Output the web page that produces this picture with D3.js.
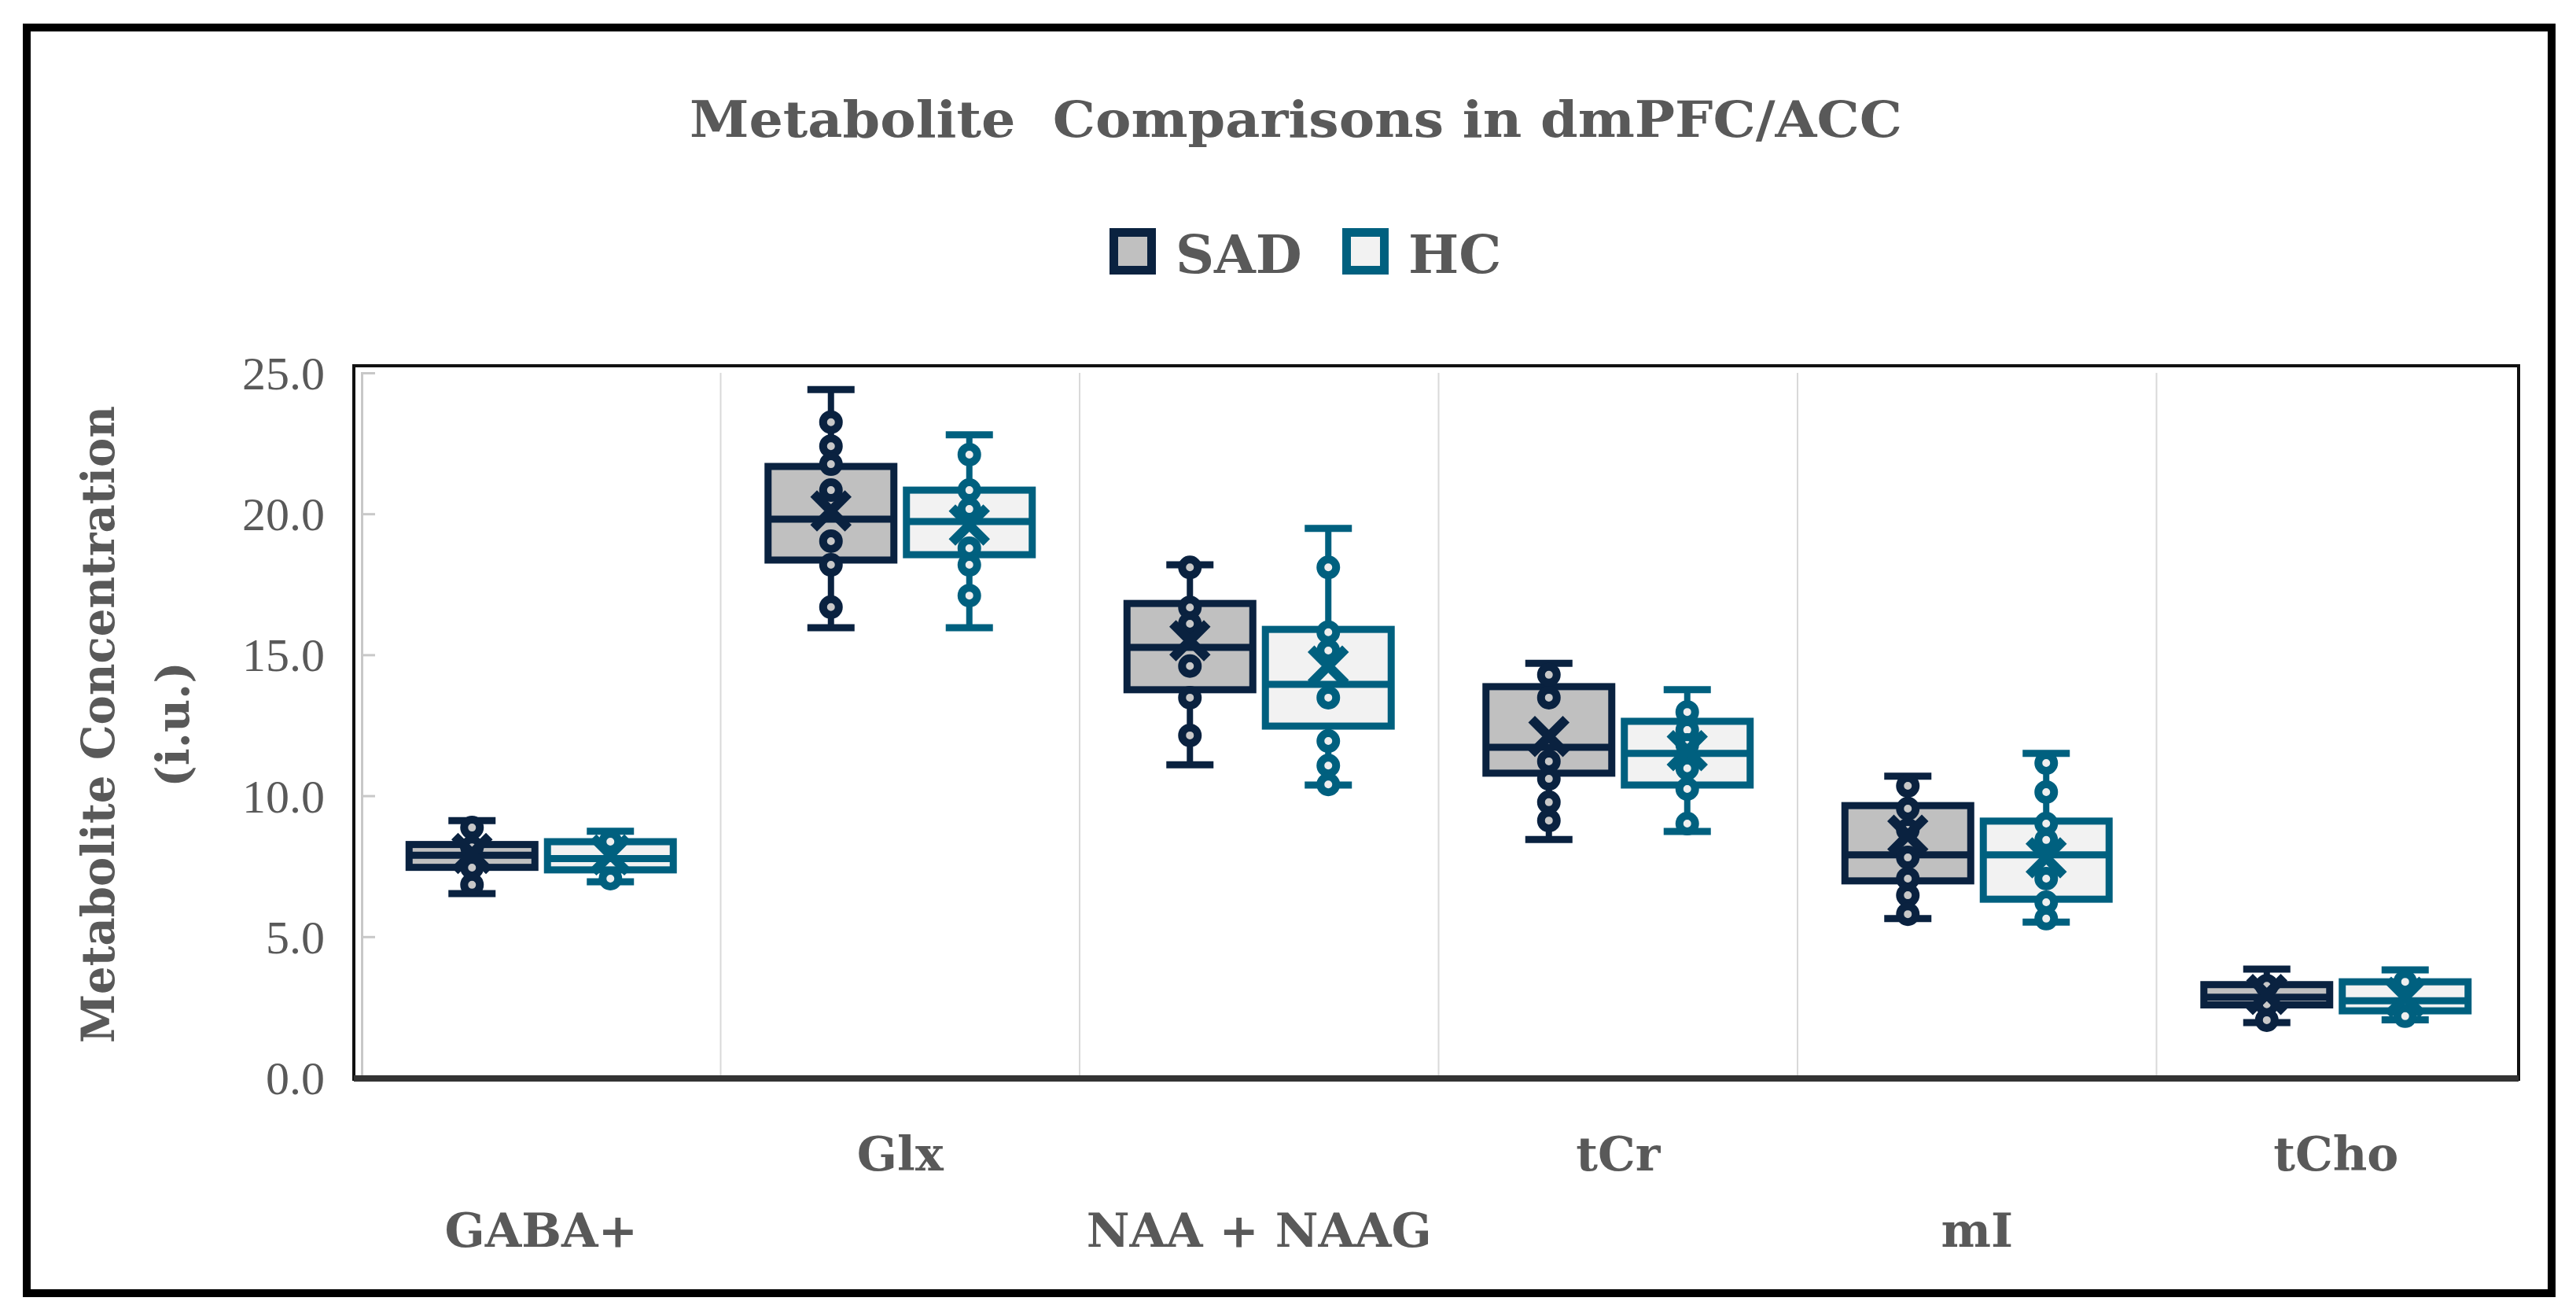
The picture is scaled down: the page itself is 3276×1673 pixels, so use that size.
<!DOCTYPE html>
<html><head><meta charset="utf-8">
<script src="https://cdn.jsdelivr.net/npm/d3@7"></script>
<style>html,body{margin:0;padding:0;background:#fff;} svg{display:block;}</style>
</head><body>
<svg id="chart" width="3276" height="1673"></svg>
<script>
const categories = ["GABA+", "Glx", "NAA + NAAG", "tCr", "mI", "tCho"];
const seriesNames = ["SAD", "HC"];
const yTicks = [0, 5, 10, 15, 20, 25];

// SAD box statistics
const sadMin    = [6.53, 15.96, 11.10, 8.45, 5.64, 1.95];
const sadQ1     = [7.46, 18.36, 13.76, 10.80, 6.98, 2.58];
const sadMedian = [7.89, 19.81, 15.26, 11.72, 7.90, 2.85];
const sadQ3     = [8.27, 21.68, 16.82, 13.87, 9.65, 3.30];
const sadMax    = [9.12, 24.41, 18.19, 14.70, 10.69, 3.85];
const sadMean   = [7.95, 20.10, 15.50, 12.10, 8.60, 2.95];
// HC box statistics
const hcMin    = [6.95, 15.96, 10.38, 8.73, 5.52, 2.05];
const hcQ1     = [7.37, 18.55, 12.47, 10.38, 6.33, 2.37];
const hcMedian = [7.77, 19.73, 13.95, 11.50, 7.90, 2.73];
const hcQ3     = [8.37, 20.84, 15.90, 12.64, 9.10, 3.40];
const hcMax    = [8.74, 22.80, 19.48, 13.76, 11.50, 3.82];
const hcMean   = [7.90, 19.60, 14.60, 11.60, 7.80, 2.85];
// visible inner points
const sadPoints = [
  [8.87, 8.17, 7.45, 6.84],
  [23.25, 22.40, 21.76, 20.84, 19.03, 18.19, 16.69],
  [18.10, 16.68, 16.10, 14.60, 13.48, 12.14],
  [14.29, 13.48, 11.22, 10.60, 9.77, 9.12],
  [10.35, 9.54, 8.79, 7.81, 7.06, 6.47, 5.80],
  [3.26, 2.60, 2.04]
];
const hcPoints = [
  [8.37, 7.06],
  [22.10, 20.84, 20.17, 18.78, 18.19, 17.10],
  [18.10, 15.80, 15.15, 13.48, 11.94, 11.07, 10.40],
  [12.97, 12.33, 11.80, 10.97, 10.24, 9.01],
  [11.16, 10.13, 9.01, 8.43, 7.06, 6.22, 5.64],
  [3.40, 2.18]
];

const seriesStats = {
  SAD: {min: sadMin, q1: sadQ1, med: sadMedian, q3: sadQ3, max: sadMax, mean: sadMean, pts: sadPoints,
        stroke: "#0a2240", fill: "#c0c0c0", hole: "#c8c8c8"},
  HC:  {min: hcMin, q1: hcQ1, med: hcMedian, q3: hcQ3, max: hcMax, mean: hcMean, pts: hcPoints,
        stroke: "#00607f", fill: "#f2f2f2", hole: "#eeeeee"}
};

const textColor = "#595959";
const boldFont = "'Palatino Linotype','Book Antiqua',Palatino,'DejaVu Serif',serif";
const tickFont = "'Palatino Linotype','Book Antiqua',Palatino,'Liberation Serif',serif";

const svg = d3.select("#chart");
svg.append("rect").attr("width", 3276).attr("height", 1673).attr("fill", "#fff");

// outer border
svg.append("rect").attr("x", 34).attr("y", 35).attr("width", 3211).attr("height", 1609)
  .attr("fill", "none").attr("stroke", "#000").attr("stroke-width", 10);

const x = d3.scaleBand().domain(categories).range([460, 3199]).padding(0);
const xs = d3.scalePoint().domain(seriesNames).range([0, x.bandwidth()]).padding(0.797);
const y = d3.scaleLinear().domain([0, 25]).range([1370, 474]);

// title
svg.append("text").attr("x", 1648).attr("y", 174).attr("text-anchor", "middle")
  .attr("font-family", boldFont).attr("font-weight", "bold").attr("font-size", 64)
  .attr("fill", textColor).attr("textLength", 1542).attr("lengthAdjust", "spacingAndGlyphs")
  .style("white-space", "pre")
  .text("Metabolite  Comparisons in dmPFC/ACC");

// legend
const legendPos = {SAD: {box: 1416.5, text: 1495}, HC: {box: 1712.5, text: 1791}};
seriesNames.forEach(s => {
  const st = seriesStats[s];
  svg.append("rect").attr("x", legendPos[s].box).attr("y", 295.5).attr("width", 48).attr("height", 48)
    .attr("fill", st.fill).attr("stroke", st.stroke).attr("stroke-width", 11);
  svg.append("text").attr("x", legendPos[s].text).attr("y", 347)
    .attr("font-family", boldFont).attr("font-weight", "bold").attr("font-size", 68)
    .attr("fill", textColor).text(s);
});

// vertical gridlines at category boundaries
svg.append("g").selectAll("line").data(categories.slice(1)).join("line")
  .attr("x1", d => x(d)).attr("x2", d => x(d))
  .attr("y1", y(25)).attr("y2", y(0))
  .attr("stroke", "#d9d9d9").attr("stroke-width", 2);

// inner y axis line and ticks
const yInner = svg.append("g").attr("transform", "translate(460,0)")
  .call(d3.axisRight(y).tickValues(yTicks).tickSize(17).tickFormat(""));
yInner.select(".domain").attr("stroke", "#c8c8c8").attr("stroke-width", 3);
yInner.selectAll(".tick line").attr("stroke", "#c8c8c8").attr("stroke-width", 3);

// y tick labels
const yLab = svg.append("g").attr("transform", "translate(413,0)")
  .call(d3.axisLeft(y).tickValues(yTicks).tickSize(0).tickPadding(0).tickFormat(d3.format(".1f")));
yLab.select(".domain").remove();
yLab.selectAll("text").attr("font-family", tickFont).attr("font-size", 60)
  .attr("fill", textColor).attr("dy", "0.34em");

// plot frame
svg.append("rect").attr("x", 450).attr("y", 465).attr("width", 2753).attr("height", 907)
  .attr("fill", "none").attr("stroke", "#111").attr("stroke-width", 4);
svg.append("line").attr("x1", 450).attr("x2", 3203).attr("y1", y(0) + 1).attr("y2", y(0) + 1)
  .attr("stroke", "#333").attr("stroke-width", 8);

// y axis title
const yTitle = svg.append("g").attr("font-family", boldFont).attr("font-weight", "bold")
  .attr("fill", textColor).attr("font-size", 58).attr("text-anchor", "middle");
yTitle.append("text").attr("transform", "translate(125,921) rotate(-90)").attr("dy", "0.35em")
  .attr("textLength", 810).attr("lengthAdjust", "spacingAndGlyphs").text("Metabolite Concentration");
yTitle.append("text").attr("transform", "translate(220,921) rotate(-90)").attr("dy", "0.35em")
  .text("(i.u.)");

// category labels (staggered)
svg.append("g").selectAll("text").data(categories).join("text")
  .attr("x", d => x(d) + x.bandwidth() / 2)
  .attr("y", (d, i) => i % 2 === 0 ? 1585 : 1488)
  .attr("text-anchor", "middle")
  .attr("font-family", boldFont).attr("font-weight", "bold").attr("font-size", 60)
  .attr("fill", textColor).text(d => d);

// boxes
const boxW = 160, capW = 60, sw = 9;
seriesNames.forEach(s => {
  const st = seriesStats[s];
  const g = svg.append("g");
  const data = categories.map((c, i) => ({
    c, cx: x(c) + xs(s), min: st.min[i], q1: st.q1[i], med: st.med[i], q3: st.q3[i],
    max: st.max[i], mean: st.mean[i], pts: st.pts[i]
  }));
  // whiskers
  g.selectAll(".wl").data(data).join("line").attr("class", "wl")
    .attr("x1", d => d.cx).attr("x2", d => d.cx)
    .attr("y1", d => y(d.max)).attr("y2", d => y(d.min))
    .attr("stroke", st.stroke).attr("stroke-width", 8);
  g.selectAll(".capt").data(data).join("line").attr("class", "capt")
    .attr("x1", d => d.cx - capW / 2).attr("x2", d => d.cx + capW / 2)
    .attr("y1", d => y(d.max)).attr("y2", d => y(d.max))
    .attr("stroke", st.stroke).attr("stroke-width", 9);
  g.selectAll(".capb").data(data).join("line").attr("class", "capb")
    .attr("x1", d => d.cx - capW / 2).attr("x2", d => d.cx + capW / 2)
    .attr("y1", d => y(d.min)).attr("y2", d => y(d.min))
    .attr("stroke", st.stroke).attr("stroke-width", 9);
  // box
  g.selectAll(".box").data(data).join("rect").attr("class", "box")
    .attr("x", d => d.cx - boxW / 2).attr("width", boxW)
    .attr("y", d => y(d.q3)).attr("height", d => y(d.q1) - y(d.q3))
    .attr("fill", st.fill).attr("stroke", st.stroke).attr("stroke-width", sw);
  g.selectAll(".med").data(data).join("line").attr("class", "med")
    .attr("x1", d => d.cx - boxW / 2).attr("x2", d => d.cx + boxW / 2)
    .attr("y1", d => y(d.med)).attr("y2", d => y(d.med))
    .attr("stroke", st.stroke).attr("stroke-width", sw);
  // points
  const pts = data.flatMap(d => d.pts.map(v => ({cx: d.cx, v})));
  g.selectAll(".pt").data(pts).join("circle").attr("class", "pt")
    .attr("cx", d => d.cx).attr("cy", d => y(d.v)).attr("r", 10)
    .attr("fill", st.hole).attr("stroke", st.stroke).attr("stroke-width", 10);
  // mean X marker
  const h = 22;
  g.selectAll(".mean").data(data).join("path").attr("class", "mean")
    .attr("d", d => {
      const cx = d.cx, cy = y(d.mean);
      return `M${cx - h},${cy - h}L${cx + h},${cy + h}M${cx - h},${cy + h}L${cx + h},${cy - h}`;
    })
    .attr("stroke", st.stroke).attr("stroke-width", 12).attr("fill", "none");
});
</script>
</body></html>
